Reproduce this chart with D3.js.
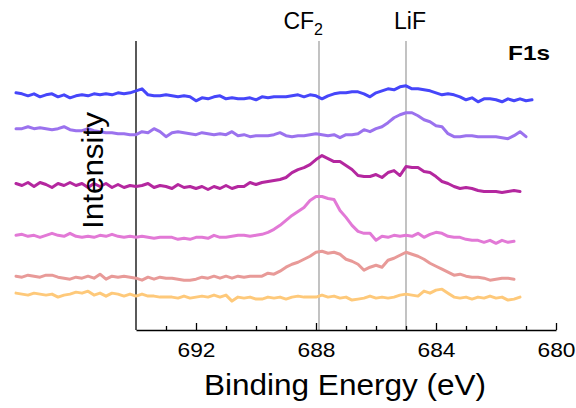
<!DOCTYPE html>
<html>
<head>
<meta charset="utf-8">
<script src="https://cdn.jsdelivr.net/npm/d3@7"></script>
<style>
  body { margin: 0; background: #fff; }
  svg { display: block; }
  text { font-family: "Liberation Sans", Arial, Helvetica, sans-serif; fill: #000; }
</style>
</head>
<body>
<svg id="chart" width="576" height="408"></svg>
<script>
// F1s spectra, sampled every 0.2 eV from 698 eV toward lower binding energy.
const energyStart = 698;
const energyStep = 0.2;

// Stacking offset of each spectrum (top to bottom) and its colour.
const stackOffsets = [235, 199, 145, 94, 54, 36];
const seriesColors = ["#4646fa", "#9b72ee", "#b4279f", "#e279d6", "#e89a98", "#fec97a"];

// Background-relative intensity of each spectrum.
const spectrum1 = [3,2,0,2,-1,1,2,-1,1,-2, 0,1,0,2,1,2,1,3,2,3, 5,7,1,0,0,1,0,-1,0,-1,
  -5,-2,-3,-1,0,-3,-2,-3,-3,-2, -4,-1,-2,-1,-1,-1,0,1,-1,1, 0,-3,0,2,3,3,4,4,2,-1,
  3,5,7,6,9,10,7,7,6,5, 3,1,2,1,-1,-4,-2,-6,-3,-3, -4,-6,-3,-5,-3,-5,-4];
const spectrum2 = [3,3,5,3,4,3,2,3,5,2, 1,1,3,1,0,-1,-1,-2,-2,-3, -3,0,-1,3,0,-5,-1,0,-1,-2,
  -3,-1,-2,-3,-2,-3,0,-4,-3,-5, -4,-4,-4,-3,-1,-4,-5,-4,-4,-3, -2,-3,-4,-3,-6,-3,-3,-2,2,0,
  3,5,9,14,17,19,19,16,12,10, 6,5,-2,-5,-5,-4,-4,-5,-5,-5, -5,-6,-7,-4,0,-5];
const spectrum3 = [2,0,3,-1,3,1,-2,2,0,3, 0,2,-2,2,-1,2,-2,1,-2,0, -1,0,2,-2,0,-1,-3,1,-2,-1,
  -3,-1,-4,-1,-3,0,-3,-1,-1,3, 1,3,4,5,6,8,13,16,18,21, 26,30,27,24,24,20,16,10,9,9,
  11,8,13,15,10,19,18,18,14,13, 9,4,2,-1,-3,-2,-3,-5,-6,-6, -6,-7,-6,-5,-6];
const spectrum4 = [1,2,0,1,-1,1,3,1,0,3, 0,-1,0,-1,1,0,2,0,-1,0, -1,0,-1,-2,-1,-1,-1,-3,-2,-3,
  -1,-1,-2,1,-1,-1,0,1,1,0, 1,2,4,7,11,16,21,25,29,36, 40,40,38,37,26,19,11,5,3,3,
  -4,0,-1,1,0,1,0,3,-1,2, 4,3,0,-1,-1,-3,-4,-4,-6,-4, -7,-4,-6,-5];
const spectrum5 = [0,-1,1,0,-1,1,1,-1,-2,-3, -1,-2,0,-2,2,-3,0,-1,0,-1, -2,-4,-1,-3,-1,-2,-2,-3,-4,-4,
  -3,-1,-2,0,-2,0,-2,0,-1,0, 0,0,3,2,5,9,12,14,17,20, 24,25,23,24,22,17,15,12,6,9,
  11,9,16,18,21,24,22,20,17,13, 10,7,4,1,2,0,-1,-1,-2,-4, -3,-2,-2,-3];
const spectrum6 = [1,0,-1,1,0,-1,0,-3,-1,0, 2,1,3,-1,1,-2,1,0,-2,0, -2,0,-2,-2,-3,-3,-3,-4,-2,-4,
  -3,-2,-3,-1,-3,-1,-7,-3,-4,-3, -5,-5,-3,-4,-3,-5,-3,-2,-3,-3, -3,-1,-3,-2,-4,-3,-6,-5,-4,-2,
  -4,-3,-4,-3,-1,0,-1,-2,3,1, 4,5,1,-3,-4,-3,-5,-3,-4,-2, -4,-3,-6,-5,-3];

const spectra = [spectrum1, spectrum2, spectrum3, spectrum4, spectrum5, spectrum6];

// Axis ticks (eV) and peak markers.
const majorTicks = [692, 688, 684, 680];
const minorTicks = [693, 691, 690, 689, 687, 686, 685, 683, 682, 681];
const peakMarkers = [
  { name: "CF", sub: "2", energy: 687.9 },
  { name: "LiF", sub: "", energy: 685.0 }
];
const panelLabel = "F1s";
const xTitle = "Binding Energy (eV)";
const yTitle = "Intensity";

const svg = d3.select("#chart");

const x = d3.scaleLinear().domain([694, 680]).range([136, 556]);
const y = d3.scaleLinear().domain([0, 290]).range([330, 41]);

// Peak reference lines
svg.append("g").selectAll("line").data(peakMarkers).join("line")
  .attr("x1", d => x(d.energy)).attr("x2", d => x(d.energy))
  .attr("y1", y.range()[1]).attr("y2", y.range()[0])
  .attr("stroke", "#9a9a9a").attr("stroke-width", 1.2);

// Left spine
svg.append("line")
  .attr("x1", x(694)).attr("x2", x(694))
  .attr("y1", y.range()[1]).attr("y2", y.range()[0])
  .attr("stroke", "#000").attr("stroke-width", 1.3);

// Bottom axis: major ticks with labels, then minor ticks
const xAxis = d3.axisBottom(x).tickValues(majorTicks).tickSizeInner(-7).tickSizeOuter(0)
  .tickPadding(12).tickFormat(d3.format("d"));
const gx = svg.append("g").attr("transform", `translate(0,${y(0)})`).call(xAxis);
gx.select(".domain").attr("stroke", "#000").attr("stroke-width", 1.3);
gx.selectAll(".tick line").attr("stroke", "#000").attr("stroke-width", 1.3);
gx.selectAll(".tick text").attr("font-size", 21)
  .attr("font-family", '"Liberation Sans", Arial, sans-serif').attr("fill", "#000")
  .attr("textLength", 38).attr("lengthAdjust", "spacingAndGlyphs");

const gxMinor = svg.append("g").attr("transform", `translate(0,${y(0)})`)
  .call(d3.axisBottom(x).tickValues(minorTicks).tickSizeInner(-4).tickSizeOuter(0).tickFormat(""));
gxMinor.select(".domain").remove();
gxMinor.selectAll(".tick line").attr("stroke", "#000").attr("stroke-width", 1.3);

// Spectra
const line = d3.line()
  .x((d, i) => x(energyStart - i * energyStep))
  .y(d => d);

svg.append("g").selectAll("path").data(spectra).join("path")
  .attr("d", (s, k) => line(s.map(v => y(stackOffsets[k] + v))))
  .attr("fill", "none")
  .attr("stroke", (s, k) => seriesColors[k])
  .attr("stroke-width", 3)
  .attr("stroke-linejoin", "round")
  .attr("stroke-linecap", "round");

// Peak labels
const peakText = svg.append("g").selectAll("text").data(peakMarkers).join("text")
  .attr("x", d => x(d.energy))
  .attr("y", 29)
  .attr("text-anchor", (d, i) => i === 0 ? "end" : "middle")
  .attr("dx", 4)
  .attr("font-size", 23);
peakText.append("tspan").text(d => d.name);
peakText.append("tspan").text(d => d.sub).attr("font-size", 16).attr("dy", 6);

// Panel label
svg.append("text").attr("x", 550).attr("y", 60).attr("text-anchor", "end")
  .attr("font-size", 21).attr("font-weight", "bold")
  .attr("textLength", 42).attr("lengthAdjust", "spacingAndGlyphs").text(panelLabel);

// Axis titles
svg.append("text").attr("x", 345).attr("y", 395).attr("text-anchor", "middle")
  .attr("font-size", 29).attr("textLength", 282).attr("lengthAdjust", "spacingAndGlyphs")
  .text(xTitle);
svg.append("text").attr("transform", "translate(103,170.5) rotate(-90)")
  .attr("text-anchor", "middle").attr("font-size", 29)
  .attr("textLength", 117).attr("lengthAdjust", "spacingAndGlyphs")
  .text(yTitle);
</script>
</body>
</html>
